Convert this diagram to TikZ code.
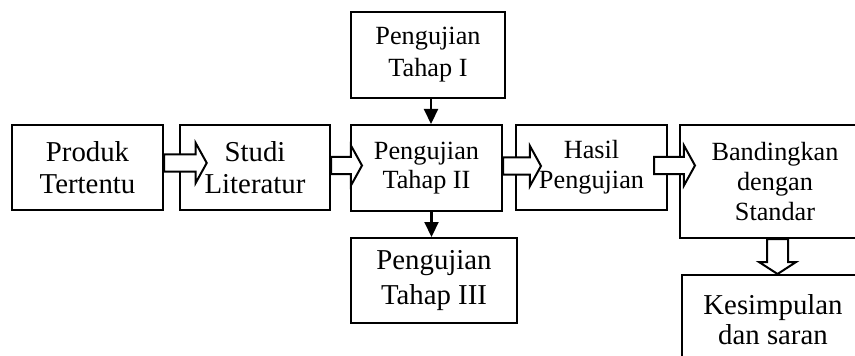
\documentclass[tikz,border=0pt]{standalone}
\usepackage{fontspec}
\setmainfont{Liberation Serif}
\usetikzlibrary{calc,arrows.meta}

\newcommand{\shaft}{6.4pt}
\newcommand{\headw}{15pt}
\newcommand{\headlen}{8.3pt}

\begin{document}
\begin{tikzpicture}[
    x=0.75pt, y=-0.75pt,
    box/.style={draw, line width=1.5pt, fill=white, align=center, inner sep=0pt},
    large font/.style={font=\fontsize{21.6pt}{#1}\selectfont},
    large font/.default=24pt,
    small font/.style={font=\fontsize{19.7pt}{#1}\selectfont},
    small font/.default=22.5pt,
    rblock/.style={draw, line width=1.5pt, fill=white, line join=miter,
        to path={let \p1=(\tikztostart), \p2=(\tikztotarget) in
        ({\x1},{\y1+\shaft}) -- ({\x2-\headlen},{\y1+\shaft}) -- ({\x2-\headlen},{\y1+\headw})
        -- ({\x2},{\y1}) -- ({\x2-\headlen},{\y1-\headw}) -- ({\x2-\headlen},{\y1-\shaft})
        -- ({\x1},{\y1-\shaft}) -- cycle}},
    dblock/.style={draw, line width=1.5pt, fill=white, line join=miter,
        to path={let \p1=(\tikztostart), \p2=(\tikztotarget) in
        ({\x1-7.9pt},{\y1}) -- ({\x1-7.9pt},{\y2+9pt}) -- ({\x1-13.9pt},{\y2+9pt})
        -- ({\x1},{\y2}) -- ({\x1+13.9pt},{\y2+9pt}) -- ({\x1+7.9pt},{\y2+9pt})
        -- ({\x1+7.9pt},{\y1}) -- cycle}},
    down/.style={line width=1.6pt, -{Triangle[length=11.25pt,width=10.5pt]}}
]

\useasboundingbox (0,0) rectangle (855,356);
\clip (0,0) rectangle (855,356);

% BOXES
\node[box, large font, minimum width=113.25pt, minimum height=63.75pt] (produk) at (87.5,167.5) {Produk\\Tertentu};
\node[box, large font, minimum width=112.5pt, minimum height=63.75pt] (studi) at (255,167.5) {Studi\\Literatur};
\node[box, small font=24pt, minimum width=115.5pt, minimum height=64.5pt] (tahapa) at (428,55) {Pengujian\\Tahap I};
\node[box, small font=21.75pt, minimum width=113.25pt, minimum height=64.5pt] (tahapb) at (426.5,168) {Pengujian\\Tahap II};
\node[box, large font=26.25pt, minimum width=124.5pt, minimum height=63.75pt] (tahapc) at (434,280.5) {Pengujian\\Tahap III};
\node[box, small font, minimum width=113.25pt, minimum height=63.75pt] (hasil) at (591.5,167.5) {Hasil\\Pengujian};
\node[box, small font, minimum width=142.5pt, minimum height=84.75pt] (banding) at (775,181.5) {Bandingkan\\dengan\\Standar};
\node[box, large font=22.5pt, minimum width=136.5pt, minimum height=67.5pt] (simpul) at (773,320) {Kesimpulan\\dan saran};

% ARROWS
\draw[down] ([xshift=2.25pt]tahapa.south) -- ([xshift=2.25pt]tahapa.south |- tahapb.north);
\draw[down] ([xshift=3.75pt]tahapb.south) -- ([xshift=3.75pt]tahapb.south |- tahapc.north);

\draw[rblock] ([yshift=3.4pt]produk.east) to ([xshift=20.8pt, yshift=3.4pt]studi.west);
\draw[rblock] ([yshift=1.5pt]studi.east) to ([xshift=9pt, yshift=1.5pt]tahapb.west);
\draw[rblock] ([yshift=1.5pt]tahapb.east) to ([xshift=19.5pt, yshift=1.5pt]hasil.west);
\draw[rblock] ([xshift=-10.5pt, yshift=1.5pt]hasil.east) to ([xshift=12pt, yshift=1.5pt]banding.west);
\draw[dblock] ([xshift=1.9pt]banding.south) to ([xshift=1.9pt]banding.south |- simpul.north);

\end{tikzpicture}
\end{document}
